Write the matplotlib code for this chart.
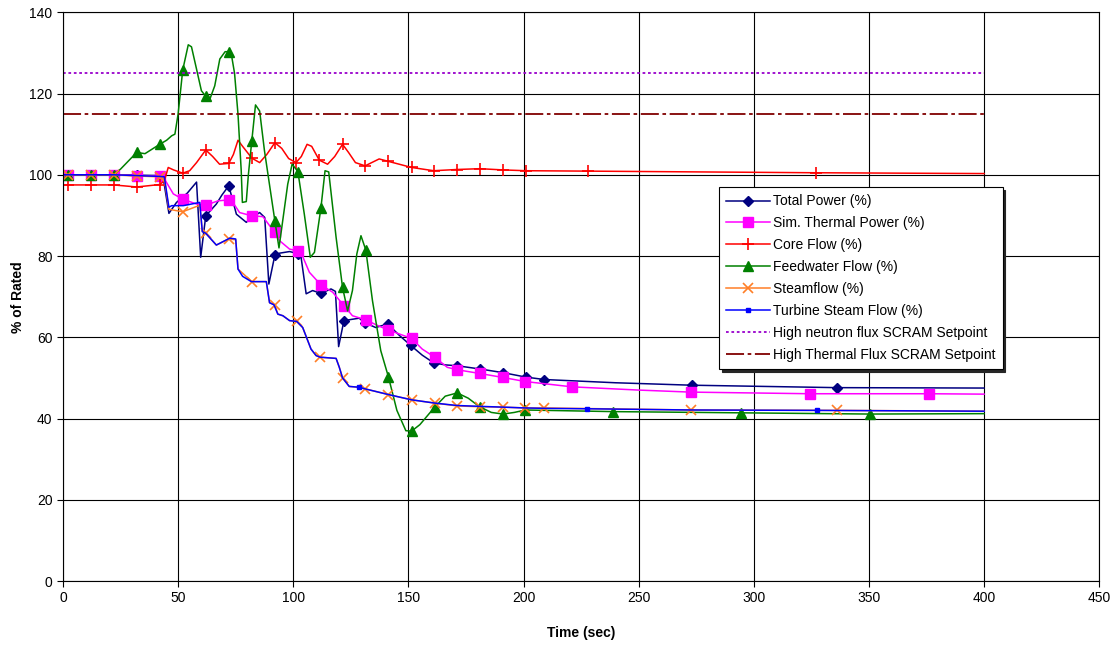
import numpy as np
import matplotlib
matplotlib.use("Agg")
import matplotlib.pyplot as plt

plt.rcParams['font.family'] = ['Liberation Sans', 'DejaVu Sans']

# ---------------- data (time in sec, value in % of rated) ----------------
tp_t = [0, 2, 12, 22, 32, 42, 43.5, 46, 49.3, 54, 58, 59.8, 62, 66.6, 69, 72, 75.3, 79.6, 82, 85.4, 87.6,
        89.4, 92, 94, 98.4, 102, 103.4, 105.6, 108.4, 112, 116.4, 118.3, 119.7, 122, 128.6, 131, 135.8,
        141, 146, 151, 156, 161, 166, 171, 181, 191, 201, 209, 240, 273, 336, 400]
tp_v = [100, 100, 100, 100, 99.9, 99.8, 99.3, 90.5, 93.2, 95.5, 98.2, 79.7, 89.9, 92.8, 95.0, 97.3, 90.3,
        88.3, 89.5, 90.7, 89.5, 73.1, 80.2, 80.7, 81.1, 80.6, 79.7, 70.7, 71.5, 70.8, 71.9, 71.3, 57.7,
        64.1, 64.7, 63.6, 62.4, 63.3, 60.5, 58.0, 55.6, 53.7, 53.2, 53.0, 52.2, 51.3, 50.2, 49.6, 48.8,
        48.2, 47.6, 47.5]
tp_m = [2, 12, 22, 32, 42, 62, 72, 92, 102, 112, 122, 131, 141, 151, 161, 171, 181, 191, 201, 209, 273, 336]

st_t = [0, 2, 12, 22, 32, 42, 43.5, 47.9, 52, 58, 62, 67.4, 72, 74, 76.7, 82, 86.8, 89.7, 92, 94, 98.4,
        102, 104, 107, 112, 117.1, 122, 125.7, 131.5, 136.6, 141.3, 151.4, 156, 161.4, 166.9, 171.2,
        180.9, 191.1, 200.8, 221, 250, 272.6, 324.4, 376, 400]
st_v = [100, 100, 100, 100, 99.8, 99.7, 99.5, 95.3, 94.0, 92.8, 92.5, 93.6, 93.8, 93.0, 90.7, 89.9, 89.7,
        87.5, 85.8, 83.8, 81.7, 81.3, 80.0, 76.0, 72.9, 71.1, 67.8, 65.3, 64.3, 62.9, 61.8, 59.7, 57.1,
        55.1, 52.6, 52.0, 51.1, 50.1, 49.1, 47.8, 47.0, 46.5, 46.1, 46.1, 46.0]
st_m = [2, 12, 22, 32, 42, 52, 62, 72, 82, 92, 102, 112, 122, 131.5, 141.3, 151.4, 161.4, 171.2, 180.9,
        191.1, 200.8, 221, 272.6, 324.4, 376]

cf_t = [0, 2, 12, 22, 32, 42, 44, 45.7, 48, 52, 55, 58, 62, 65, 68, 72, 74, 76, 78, 82, 85.4, 88.5, 92,
        95, 98, 101.2, 103.5, 106, 108, 111.3, 114.9, 118, 121.4, 124, 127, 131.2, 137.3, 141.3, 151.4,
        161, 171, 181, 191, 201, 228, 327, 400]
cf_v = [97.5, 97.5, 97.5, 97.5, 97.0, 97.6, 98.5, 101.8, 101.2, 100.4, 101.0, 103.0, 106.1, 104.5, 102.6,
        102.8, 105.0, 108.5, 107.0, 104.1, 103.0, 105.0, 107.9, 106.5, 104.0, 103.0, 104.5, 107.5, 107.0,
        103.6, 102.6, 104.5, 107.5, 105.5, 103.0, 102.2, 103.9, 103.3, 101.8, 101.0, 101.3, 101.5, 101.2,
        101.0, 100.9, 100.5, 100.3]
cf_m = [2, 12, 22, 32, 42, 52, 62, 72, 82, 92, 101.2, 111.3, 121.4, 131.2, 141.3, 151.4, 161, 171, 181,
        191, 201, 228, 327]

fw_t = [0, 2, 12, 22, 25, 32, 35.6, 42, 45, 47.2, 48.6, 50, 52, 54.4, 55.8, 58, 60.1, 62, 63.7, 65.9,
        68.1, 70.4, 72, 73.1, 74.5, 76, 77.4, 77.9, 79.6, 80.5, 82, 83.6, 85.4, 87.5, 92, 93.8, 97.6,
        99.5, 102, 104.8, 107.4, 109.2, 112, 113.8, 115.4, 118.6, 121.4, 123.6, 125.7, 127.6, 129.4,
        131.5, 134.4, 138, 141.3, 145, 148.9, 151.4, 155, 161.4, 166, 171.2, 176, 180.9, 186, 191.1,
        196, 200.8, 210, 239, 294.5, 350.3, 400]
fw_v = [100, 100, 100, 100, 101.4, 105.5, 105.2, 107.5, 108.5, 109.6, 110.0, 115.0, 125.8, 132.0, 131.5,
        126.0, 120.7, 119.3, 118.5, 121.9, 128.5, 130.3, 130.3, 129.7, 125.0, 114.9, 101.0, 93.2, 93.4,
        100.0, 108.4, 117.2, 115.7, 105.9, 88.7, 82.0, 97.7, 102.6, 100.8, 90.3, 79.7, 80.9, 91.8, 101.0,
        100.7, 84.6, 72.3, 66.5, 71.5, 80.5, 85.0, 81.5, 69.0, 56.7, 50.3, 42.0, 37.0, 36.9, 38.5, 42.8,
        45.5, 46.3, 45.0, 42.9, 41.5, 41.1, 41.5, 42.1, 42.0, 41.7, 41.4, 41.1, 41.2]
fw_m = [2, 12, 22, 32, 42, 52, 62, 72, 82, 92, 102, 112, 121.4, 131.5, 141.3, 151.4, 161.4, 171.2, 180.9,
        191.1, 200.8, 239, 294.5, 350.3]

sf_t = [0, 2, 12, 22, 32, 42, 44, 46, 52, 59.4, 60.5, 62, 66.6, 72, 75, 76, 82, 88.3, 89.7, 92, 93.3,
        95.5, 98.4, 101.5, 104.1, 107.7, 109.9, 111.6, 118.6, 120, 121.4, 124.3, 128.5, 131.2, 141.3,
        151.4, 161.4, 171.2, 180.9, 191.1, 200.8, 209.1, 272.6, 336, 400]
sf_v = [100, 100, 100, 100, 99.7, 99.5, 99.0, 91.5, 90.9, 92.5, 86.0, 85.6, 82.7, 84.2, 84.0, 76.8, 73.7,
        73.7, 68.5, 68.0, 65.7, 65.3, 64.1, 63.9, 62.4, 57.1, 55.5, 55.1, 54.8, 52.6, 50.0, 47.9, 47.7,
        47.3, 45.9, 44.6, 43.8, 43.1, 42.9, 42.8, 42.6, 42.6, 42.1, 42.0, 41.8]
sf_m = [2, 12, 22, 32, 42, 52, 62, 72, 82, 92, 101.5, 111.6, 121.4, 131.2, 141.3, 151.4, 161.4, 171.2,
        180.9, 191.1, 200.8, 209.1, 272.6, 336]

ts_t = [0, 12, 22, 32, 42, 44, 46, 47.2, 52.2, 59.4, 60.5, 62, 66.6, 72.4, 75, 76, 78, 81.8, 88.3, 89.7,
        91.6, 93.3, 95.5, 98.4, 101.5, 104.1, 107.7, 109.9, 111.6, 118.6, 120, 121.4, 124.3, 128.5,
        131.2, 141.3, 151.4, 161.4, 171.2, 180.9, 191.1, 200.8, 209.1, 227.4, 272.6, 327.3, 400]
ts_v = [100, 100, 100, 99.8, 99.6, 99.5, 92.0, 92.4, 92.4, 93.2, 86.0, 85.6, 82.7, 84.4, 84.2, 76.8, 75.0,
        73.7, 73.7, 68.5, 68.0, 65.7, 65.3, 64.1, 63.9, 62.4, 57.1, 55.5, 55.1, 54.8, 52.6, 50.0, 47.9,
        47.7, 47.3, 45.9, 44.6, 43.8, 43.2, 43.0, 42.8, 42.6, 42.5, 42.4, 42.1, 42.0, 41.8]
ts_m = [128.5, 227.4, 327.3]

setpoint_t = [0, 400]
neutron_sp = [125, 125]
thermal_sp = [115, 115]

labels = ["Total Power (%)", "Sim. Thermal Power (%)", "Core Flow (%)", "Feedwater Flow (%)",
          "Steamflow (%)", "Turbine Steam Flow (%)", "High neutron flux SCRAM Setpoint",
          "High Thermal Flux SCRAM Setpoint"]

x_ticks = [0, 50, 100, 150, 200, 250, 300, 350, 400, 450]
y_ticks = [0, 20, 40, 60, 80, 100, 120, 140]

# ---------------- figure ----------------
fig = plt.figure(figsize=(11.13, 6.47), dpi=100)
ax = fig.add_axes([0.0566, 0.102, 0.931, 0.879])


def idx(ts, ms):
    return [i for i, t in enumerate(ts) if t in ms]


lw = 1.1
ax.plot(tp_t, tp_v, color='#000080', lw=lw, marker='D', ms=5.5, markevery=idx(tp_t, tp_m), label=labels[0])
ax.plot(st_t, st_v, color='#FF00FF', lw=lw, marker='s', ms=7, markevery=idx(st_t, st_m), label=labels[1])
ax.plot(cf_t, cf_v, color='#FF0000', lw=lw, marker='+', ms=8, mew=1.2, markevery=idx(cf_t, cf_m), label=labels[2])
ax.plot(fw_t, fw_v, color='#008000', lw=lw, marker='^', ms=6.5, markevery=idx(fw_t, fw_m), label=labels[3])
ax.plot(sf_t, sf_v, color='#FF7F27', lw=lw, marker='x', ms=7, mew=1.2, markevery=idx(sf_t, sf_m), label=labels[4])
ax.plot(ts_t, ts_v, color='#0000FF', lw=lw, marker='s', ms=2.5, markevery=idx(ts_t, ts_m), label=labels[5])
ax.plot(setpoint_t, neutron_sp, color='#9900CC', lw=1.3, ls=(0, (1.5, 1.5)), label=labels[6])
ax.plot(setpoint_t, thermal_sp, color='#800000', lw=1.3, ls=(0, (10, 2, 2, 2)), label=labels[7])

ax.set_xlim(0, 450)
ax.set_ylim(0, 140)
ax.set_xticks(x_ticks)
ax.set_yticks(y_ticks)
ax.grid(True, color='black', lw=0.8)
ax.set_axisbelow(True)
for s in ax.spines.values():
    s.set_color('black')
    s.set_linewidth(0.8)
ax.tick_params(axis='both', labelsize=10, length=4, width=0.8, direction='out', colors='black')
ax.set_xlabel('Time (sec)', fontsize=10, fontweight='bold', labelpad=15)
ax.set_ylabel('% of Rated', fontsize=10, fontweight='bold', labelpad=3)

leg = ax.legend(loc='upper left', bbox_to_anchor=(0.633, 0.692), borderaxespad=0, fontsize=10,
                frameon=True, fancybox=False, edgecolor='black', framealpha=1, handlelength=3.2,
                borderpad=0.5, labelspacing=0.57, handletextpad=0.2,
                shadow={'color': '0.15', 'alpha': 1})
leg.get_frame().set_linewidth(0.8)

fig.savefig('out.png', dpi=100)
